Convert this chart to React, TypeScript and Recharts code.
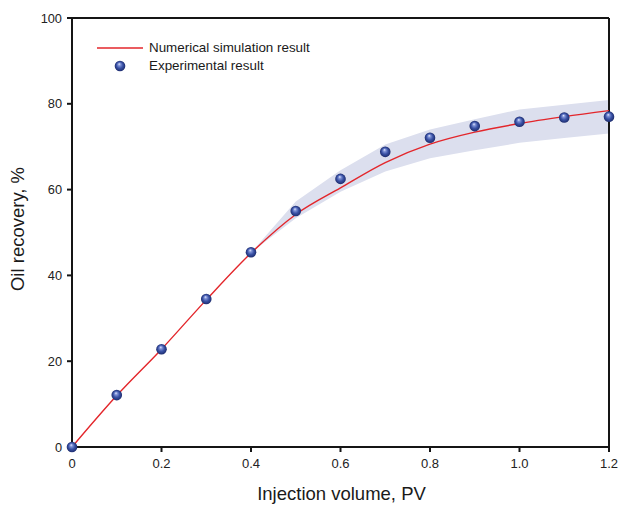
import {
  ComposedChart,
  Area,
  Line,
  Scatter,
  XAxis,
  YAxis,
  Legend,
  ReferenceLine,
  Label
} from 'recharts'

const injection = [0, 0.1, 0.2, 0.3, 0.4, 0.5, 0.6, 0.7, 0.8, 0.9, 1.0, 1.1, 1.2]
const experimental = [0, 12.1, 22.8, 34.5, 45.4, 55.0, 62.5, 68.8, 72.1, 74.8, 75.8, 76.8, 77.0]
const simulation = [0, 12.0, 22.8, 34.3, 45.2, 54.2, 60.4, 66.3, 70.6, 73.4, 75.4, 77.0, 78.4]
const bandLow = [null, null, null, null, 45.3, 53.3, 59.5, 64.2, 67.3, 69.2, 70.9, 72.0, 73.1]
const bandHigh = [null, null, null, null, 45.3, 57.2, 64.5, 70.5, 74.0, 76.4, 78.7, 79.8, 80.9]

const xTicks = [0, 0.2, 0.4, 0.6, 0.8, 1.0, 1.2]
const yTicks = [0, 20, 40, 60, 80, 100]

const data = injection.map((x, i) => ({
  x,
  exp: experimental[i],
  sim: simulation[i],
  band: bandLow[i] == null ? null : [bandLow[i], bandHigh[i]]
}))

const font = '"Liberation Sans", Arial, sans-serif'
const axisColor = '#151515'
const red = '#e3262b'

function Sphere({ cx, cy, r = 5.3 }: { cx?: number; cy?: number; r?: number }) {
  if (cx == null || cy == null) return null
  return <circle cx={cx} cy={cy} r={r} fill="url(#sphereFill)" />
}

function LegendBox() {
  return (
    <div style={{ fontFamily: font, fontSize: 13.4, color: '#1a1a1a', lineHeight: '18px' }}>
      <div style={{ display: 'flex', alignItems: 'center', height: 18 }}>
        <svg width={54} height={18}>
          <line x1={2} x2={48} y1={9} y2={9} stroke={red} strokeWidth={1.6} />
        </svg>
        <span>Numerical simulation result</span>
      </div>
      <div style={{ display: 'flex', alignItems: 'center', height: 18 }}>
        <svg width={54} height={18}>
          <Sphere cx={25} cy={9} />
        </svg>
        <span>Experimental result</span>
      </div>
    </div>
  )
}

export default function App() {
  return (
    <div style={{ position: 'absolute', left: 0, top: 0, width: 621, height: 506 }}>
      <ComposedChart
        width={621}
        height={506}
        data={data}
        margin={{ top: 18, right: 12, bottom: 0, left: 0 }}
      >
        <defs>
          <radialGradient id="sphereFill" cx="0.5" cy="0.5" r="0.5" fx="0.42" fy="0.3">
            <stop offset="0%" stopColor="#e6ebff" />
            <stop offset="25%" stopColor="#7f92d6" />
            <stop offset="60%" stopColor="#3a52a6" />
            <stop offset="100%" stopColor="#1d2c6e" />
          </radialGradient>
        </defs>
        <XAxis
          dataKey="x"
          type="number"
          domain={[0, 1.2]}
          ticks={xTicks}
          tickFormatter={(v: number) => (v === 0 ? '0' : v.toFixed(1))}
          height={59}
          tickSize={5}
          tickMargin={7}
          axisLine={{ stroke: axisColor, strokeWidth: 2 }}
          tickLine={{ stroke: axisColor, strokeWidth: 2 }}
          tick={{ fontSize: 13, fill: '#222', fontFamily: font }}
        >
          <Label
            content={() => (
              <text
                x={341.5}
                y={500}
                textAnchor="middle"
                fontSize={18.5}
                fontFamily={font}
                fill="#1a1a1a"
              >
                Injection volume, PV
              </text>
            )}
          />
        </XAxis>
        <YAxis
          type="number"
          domain={[0, 100]}
          ticks={yTicks}
          width={72}
          tickSize={5}
          tickMargin={5}
          axisLine={{ stroke: axisColor, strokeWidth: 2 }}
          tickLine={{ stroke: axisColor, strokeWidth: 2 }}
          tick={{ fontSize: 12.8, fill: '#222', fontFamily: font }}
        >
          <Label
            content={() => (
              <text
                x={24}
                y={229}
                transform="rotate(-90, 24, 229)"
                textAnchor="middle"
                fontSize={18.5}
                fontFamily={font}
                fill="#1a1a1a"
              >
                Oil recovery, %
              </text>
            )}
          />
        </YAxis>
        <ReferenceLine y={100} stroke={axisColor} strokeWidth={2} />
        <ReferenceLine x={1.2} stroke={axisColor} strokeWidth={2} />
        <Area
          dataKey="band"
          type="linear"
          stroke="none"
          fill="#dcdfee"
          fillOpacity={1}
          isAnimationActive={false}
          legendType="none"
          activeDot={false}
        />
        <Line
          dataKey="sim"
          type="monotone"
          stroke={red}
          strokeWidth={1.4}
          dot={false}
          activeDot={false}
          isAnimationActive={false}
          name="Numerical simulation result"
        />
        <Scatter
          dataKey="exp"
          shape={(p: any) => <Sphere cx={p.cx} cy={p.cy} />}
          isAnimationActive={false}
          name="Experimental result"
        />
        <Legend
          layout="vertical"
          align="center"
          verticalAlign="middle"
          wrapperStyle={{ left: 95, top: 39, width: 240 }}
          content={() => <LegendBox />}
        />
      </ComposedChart>
    </div>
  )
}
